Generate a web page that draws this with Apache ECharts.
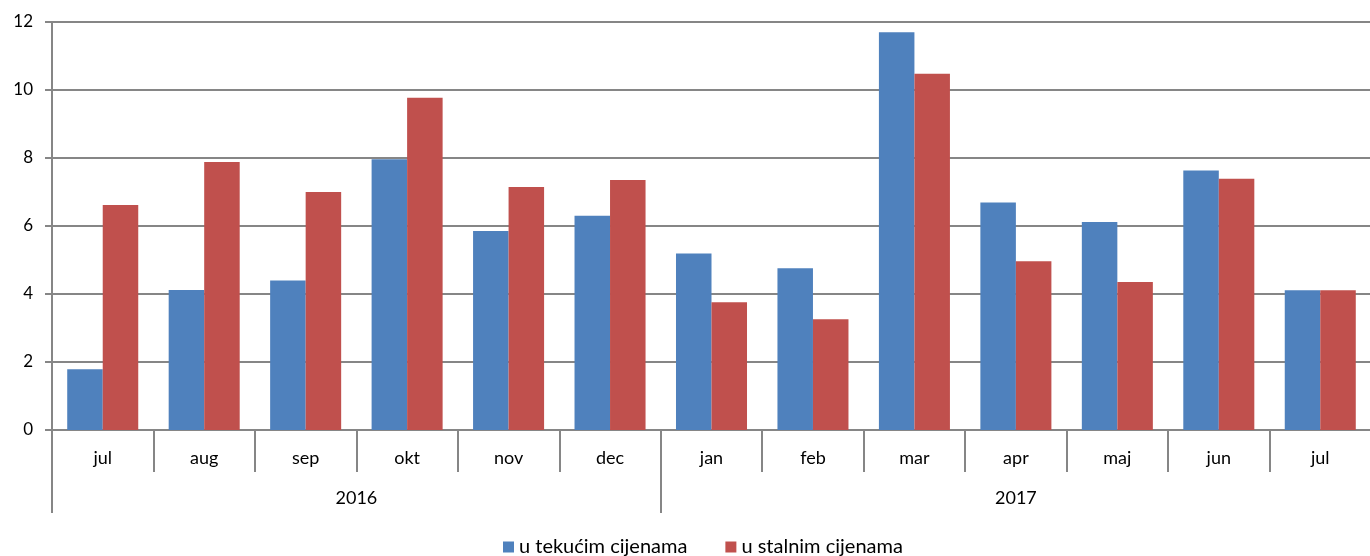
<!DOCTYPE html>
<html>
<head>
<meta charset="utf-8">
<script src="https://cdn.jsdelivr.net/npm/echarts@6/dist/echarts.min.js"></script>
<style>html,body{margin:0;padding:0;background:#fff;overflow:hidden}#c{width:1374px;height:556px}</style>
</head>
<body>
<div id="c"></div>
<script>
const months = ['jul','aug','sep','okt','nov','dec','jan','feb','mar','apr','maj','jun','jul'];
const yearTicks = ['','','','','','','2016','','','','','','','','','','','','','2017','','','','','','',''];
const seriesNames = ['u tekućim cijenama','u stalnim cijenama'];
const tekuce = [1.79, 4.12, 4.40, 7.96, 5.85, 6.30, 5.19, 4.76, 11.70, 6.69, 6.12, 7.63, 4.11];
const stalne = [6.62, 7.88, 7.00, 9.77, 7.15, 7.35, 3.76, 3.26, 10.48, 4.96, 4.35, 7.39, 4.11];
const yTicks = [0, 2, 4, 6, 8, 10, 12];

const FONT = 'Lato, "Open Sans", sans-serif';
const GRAY = '#868686';
const chart = echarts.init(document.getElementById('c'), null, {renderer: 'canvas'});
chart.setOption({
  animation: false,
  textStyle: {fontFamily: FONT, color: '#000'},
  grid: {left: 52, right: 0, top: 22, bottom: 126, containLabel: false},
  legend: {
    top: 537, left: 503, padding: 0,
    itemWidth: 11, itemHeight: 11, itemGap: 38,
    icon: 'rect',
    textStyle: {fontFamily: FONT, fontSize: 20, color: '#000'},
    data: seriesNames
  },
  xAxis: [{
    type: 'category',
    data: months,
    axisLine: {show: true, lineStyle: {color: GRAY, width: 2}},
    axisTick: {show: true, interval: 0, length: 42, lineStyle: {color: GRAY, width: 2}},
    axisLabel: {interval: 0, margin: 19, fontSize: 18, color: '#000', fontFamily: FONT}
  }, {
    type: 'category',
    data: yearTicks,
    boundaryGap: false,
    position: 'bottom',
    axisLine: {show: false},
    axisTick: {show: true, length: 83, interval: function (i) { return i === 0 || i === 12; }, lineStyle: {color: GRAY, width: 2}},
    axisLabel: {interval: 0, margin: 59, fontSize: 18, color: '#000', fontFamily: FONT}
  }],
  yAxis: {
    type: 'value',
    min: yTicks[0], max: yTicks[yTicks.length - 1], interval: 2,
    axisLine: {show: true, lineStyle: {color: GRAY, width: 2}},
    axisTick: {show: true, length: 7, lineStyle: {color: GRAY, width: 2}},
    axisLabel: {margin: 19, fontSize: 17, color: '#000', fontFamily: FONT},
    splitLine: {show: true, lineStyle: {color: GRAY, width: 2}}
  },
  series: [{
    name: seriesNames[0], type: 'bar', xAxisIndex: 0, data: tekuce,
    barGap: '0%', barCategoryGap: '30%',
    itemStyle: {color: '#4F81BD'}
  }, {
    name: seriesNames[1], type: 'bar', xAxisIndex: 0, data: stalne,
    barGap: '0%', barCategoryGap: '30%',
    itemStyle: {color: '#C0504D'}
  }]
});
</script>
</body>
</html>
